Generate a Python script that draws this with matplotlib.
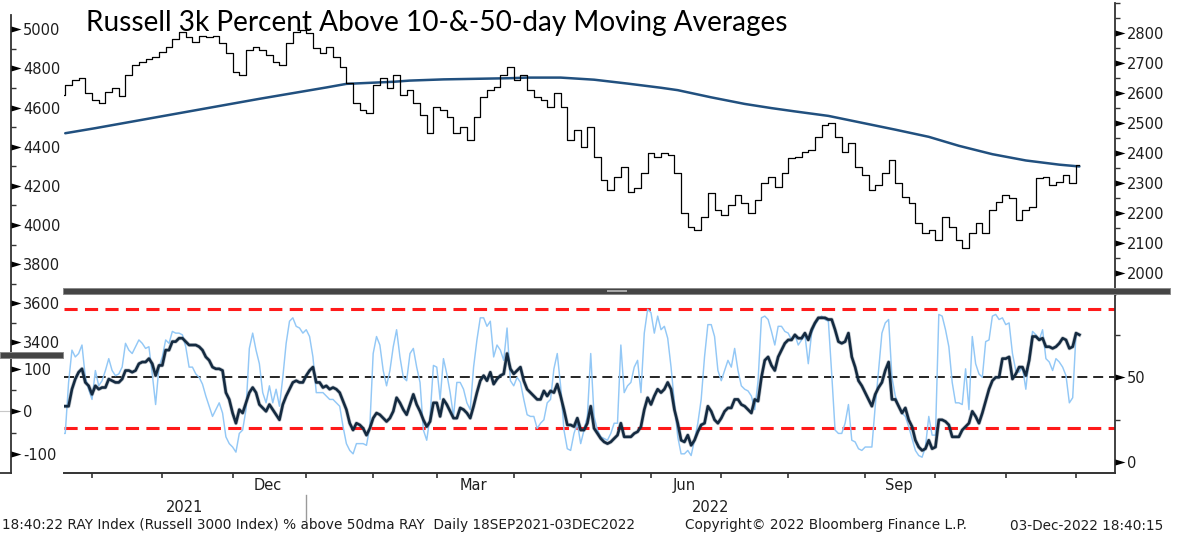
import numpy as np
import pandas as pd
import matplotlib
matplotlib.use("Agg")
import matplotlib.pyplot as plt
from matplotlib.patches import Rectangle
from matplotlib.ticker import FixedLocator, FixedFormatter
import matplotlib.patheffects as pe

# ---------------- data ----------------
TITLE = "Russell 3k Percent Above 10-&-50-day Moving Averages"
FOOT_LEFT = "18:40:22 RAY Index (Russell 3000 Index) % above 50dma RAY  Daily 18SEP2021-03DEC2022"
FOOT_MID = "Copyright\u00a9 2022 Bloomberg Finance L.P."
FOOT_RIGHT = "03-Dec-2022 18:40:15"

start_date, end_date = "2021-09-20", "2022-12-02"
market_holidays = ["2021-11-25", "2021-12-24", "2022-01-17", "2022-02-21", "2022-04-15",
                   "2022-05-30", "2022-06-20", "2022-07-04", "2022-09-05", "2022-11-24"]

# RAY close, every 2nd trading day
ray_close = [
    2594, 2627, 2644, 2650, 2599, 2577, 2566, 2605, 2616, 2590,
    2661, 2694, 2705, 2713, 2722, 2739, 2755, 2780, 2805, 2789,
    2772, 2791, 2789, 2791, 2769, 2733, 2672, 2661, 2744, 2755,
    2744, 2727, 2705, 2694, 2766, 2805, 2811, 2800, 2750, 2733,
    2755, 2722, 2688, 2633, 2566, 2544, 2532, 2627, 2650, 2616,
    2661, 2594, 2611,
    2566, 2527, 2466, 2555, 2544, 2521, 2466, 2488, 2443, 2521,
    2588, 2611, 2622, 2661, 2688, 2644, 2661, 2611, 2588, 2577,
    2555, 2599, 2555, 2443, 2477, 2421, 2488, 2388, 2310, 2276,
    2321, 2354, 2271, 2282, 2332, 2399, 2388, 2399, 2393, 2332,
    2198, 2154, 2143, 2187, 2265, 2209, 2193, 2226, 2260, 2232,
    2198, 2243, 2299,
    2321, 2288, 2332, 2382, 2388, 2404, 2410, 2454, 2493, 2499,
    2454, 2404, 2432, 2354, 2326, 2276, 2293, 2332, 2377, 2299,
    2254, 2232, 2165, 2132, 2143, 2109, 2187, 2154, 2109, 2081,
    2132, 2165, 2132, 2209, 2237, 2260, 2249, 2176, 2209, 2221,
    2315, 2321, 2293, 2304, 2326, 2299, 2360,
]

# 200-day moving average (trading-day index, value)
dma200_day = [1, 10, 19, 29, 39, 49, 59, 69, 79, 85, 99, 104, 114, 124, 134, 139, 149,
              159, 169, 179, 184, 194, 204, 212, 219, 229, 239, 249, 259, 268, 278, 288, 298, 304]
dma200_val = [2466, 2483, 2501, 2521, 2541, 2561, 2581, 2600, 2619, 2631, 2638, 2642, 2646, 2648,
              2650, 2652, 2652, 2645, 2632, 2618, 2610, 2586, 2564, 2550, 2539, 2524, 2501, 2478,
              2454, 2424, 2396, 2375, 2361, 2355]

# % of members above 50-day MA (daily)
pct_above_50dma = [
    33,
    33, 33, 43, 49, 53, 55, 47, 45, 40, 45,
    43, 44, 44, 49, 48, 47, 47, 49, 54, 54,
    53, 54, 58, 59, 59, 61, 58, 51, 57, 57,
    66, 66, 71, 71, 73, 73, 71, 69, 69, 69,
    68, 66, 62, 60, 56, 55, 55, 54, 41, 37,
    29, 23, 31, 29, 35, 41, 44, 41, 34, 32,
    30, 34, 31, 28, 25, 34, 39, 43, 47, 48,
    47, 47, 51, 54, 56, 47, 47, 44, 45, 43,
    44, 43, 41, 36, 31, 23, 19, 23, 22, 20,
    16, 20, 26, 29, 28, 26, 24, 26, 30, 38,
    35, 31, 28, 34, 40, 34, 30,
    25, 21, 24, 35, 35, 27, 37, 34, 30, 26,
    26, 32, 31, 29, 26, 33, 41, 48, 51, 48,
    53, 46, 49, 51, 52, 64, 55, 52, 54, 56,
    48, 43, 41, 39, 37, 37, 42, 39, 42, 41,
    46, 39, 31, 22, 22, 21, 26, 19, 19, 23,
    33, 20, 17, 14, 12, 11, 12, 14, 16, 23,
    15, 15, 15, 17, 18, 21, 31, 38, 34, 39,
    43, 41, 43, 47, 43, 31, 23, 13, 12, 16,
    10, 13, 18, 22, 23, 33, 30, 25, 23, 26,
    30, 32, 32, 37, 37, 34, 33, 31, 29, 37,
    36, 50, 60, 62,
    57, 54, 62, 66, 70, 72, 72, 75, 73, 73,
    76, 72, 78, 82, 85, 85, 85, 84, 84, 78,
    71, 70, 71, 76, 62, 56, 48, 45, 41, 37,
    33, 40, 44, 47, 54, 59, 37, 37, 33, 29,
    32, 25, 21, 13, 9, 7, 8, 13, 8, 9,
    25, 25, 24, 22, 15, 15, 15, 19, 21, 23,
    30, 27, 23, 29, 36, 43, 48, 50, 50, 61,
    61, 62, 49, 52, 56, 56, 51, 60, 74, 74,
    72, 73, 68, 68, 67, 68, 70, 73, 72, 67,
    68, 76, 75,
]

# % of members above 10-day MA (daily)
pct_above_10dma = [
    17,
    17, 47, 66, 62, 64, 69, 50, 43, 37, 54,
    45, 48, 54, 61, 54, 51, 52, 56, 70, 66,
    64, 68, 72, 70, 67, 68, 52, 34, 56, 62,
    72, 70, 77, 76, 76, 75, 68, 56, 56, 52,
    50, 46, 39, 33, 27, 31, 35, 29, 15, 11,
    9, 6, 17, 19, 31, 67, 76, 66, 58, 41,
    35, 45, 35, 43, 33, 50, 70, 83, 85, 80,
    79, 76, 78, 74, 62, 41, 41, 41, 39, 37,
    37, 35, 33, 21, 11, 7, 5, 11, 11, 11,
    10, 21, 64, 74, 69, 54, 45, 54, 68, 78,
    62, 50, 48, 64, 67, 56, 47,
    19, 13, 27, 57, 56, 37, 61, 52, 41, 27,
    47, 47, 43, 35, 31, 56, 72, 85, 85, 80,
    83, 62, 69, 66, 60, 79, 48, 45, 50, 47,
    37, 28, 27, 27, 20, 23, 25, 35, 37, 55,
    64, 45, 19, 8, 7, 17, 23, 11, 19, 27,
    64, 27, 19, 15, 14, 13, 17, 23, 23, 69,
    41, 45, 47, 56, 60, 41, 76, 90, 88, 76,
    86, 78, 80, 73, 56, 35, 15, 5, 5, 7,
    4, 13, 23, 37, 62, 81, 81, 74, 54, 48,
    54, 60, 56, 67, 54, 45, 43, 42, 39, 31,
    48, 85, 86, 84,
    77, 69, 80, 80, 77, 76, 72, 75, 69, 72,
    75, 58, 76, 81, 84, 86, 84, 83, 52, 19,
    17, 17, 23, 34, 13, 12, 8, 7, 9, 9,
    9, 33, 54, 76, 82, 84, 50, 39, 33, 29,
    27, 21, 14, 7, 4, 3, 9, 27, 16, 16,
    87, 86, 78, 68, 47, 35, 35, 34, 55, 31,
    74, 58, 52, 50, 71, 72, 86, 87, 84, 85,
    81, 82, 64, 54, 53, 56, 43, 62, 77, 75,
    72, 78, 61, 59, 54, 61, 59, 56, 51, 35,
    38, 76, 75,
]

band_upper, band_mid, band_lower = 90, 50, 20

right_top_major = [2000, 2100, 2200, 2300, 2400, 2500, 2600, 2700, 2800]
right_top_minor = [2050, 2150, 2250, 2350, 2450, 2550, 2650, 2750, 2850, 2900]
right_bot_major = [0, 50, 100]
right_bot_labels = ["0", "50", ""]
right_bot_minor = [25, 75]
left_top_major = [3400, 3600, 3800, 4000, 4200, 4400, 4600, 4800, 5000]
left_top_minor = [3500, 3700, 3900, 4100, 4300, 4500, 4700, 4900]
left_bot_major = [-100, 0, 100]
left_bot_minor = [-50, 50]
month_label_months = {"2021-12": "Dec", "2022-03": "Mar", "2022-06": "Jun", "2022-09": "Sep"}

# ---------------- calendar ----------------
dates = pd.bdate_range(start_date, end_date)
dates = dates[~dates.isin(pd.to_datetime(market_holidays))]
periods = dates.to_period("M")
month_start_idx = [i for i in range(1, len(dates)) if periods[i] != periods[i - 1]]
year_start_idx = [i for i in range(1, len(dates)) if dates[i].year != dates[i - 1].year][0]
label_pos, label_txt = [], []
for m, lab in month_label_months.items():
    idx = np.where(periods.astype(str) == m)[0]
    label_pos.append((idx[0] + idx[-1]) / 2.0)
    label_txt.append(lab)

# ---------------- figure ----------------
W, H, DPI = 1184, 537, 100
fig = plt.figure(figsize=(W / DPI, H / DPI), dpi=DPI)
fig.patch.set_facecolor("white")


def px_axes(x0, y0, x1, y1):
    return fig.add_axes([x0 / W, 1 - y1 / H, (x1 - x0) / W, (y1 - y0) / H])


DAY0_PX, PX_PER_DAY = 61.9, 3.347
PLOT_L, PLOT_R = 63.5, 1115
XLIM = ((PLOT_L - DAY0_PX) / PX_PER_DAY, (PLOT_R - DAY0_PX) / PX_PER_DAY)
TXT = "#1e1e1e"
SPINE = "#333333"
FS = 10.5
ARROW = [(0, -3), (0, 3), (10, 0), (0, -3)]


def value_axis(ax, major, labels, minor, ylim):
    ax.yaxis.tick_right()
    ax.yaxis.set_major_locator(FixedLocator(major))
    ax.yaxis.set_major_formatter(FixedFormatter(labels))
    ax.yaxis.set_minor_locator(FixedLocator(minor))
    ax.tick_params(axis="y", which="major", length=0, pad=8.6, labelsize=FS, labelcolor=TXT)
    ax.tick_params(axis="y", which="minor", length=3.6, width=1.0, color=SPINE, direction="out")
    ax.plot([1] * len(major), major, transform=ax.get_yaxis_transform(), ls="none",
            marker=ARROW, ms=14.4, mfc="black", mec="black", mew=0, clip_on=False, zorder=6)
    ax.set_ylim(*ylim)
    ax.spines["right"].set_color(SPINE)
    ax.spines["right"].set_linewidth(1.3)


# top panel: RAY price + 200dma
ax1 = px_axes(PLOT_L, 3, PLOT_R, 290)
price_x = np.arange(0, 2 * len(ray_close), 2)
ax1.plot(dma200_day, dma200_val, color="#21507f", lw=1.8, zorder=2, solid_capstyle="round",
         solid_joinstyle="round")
ax1.plot(price_x, ray_close, drawstyle="steps-mid", color="black", lw=0.9, zorder=3)
for s in ["top", "left", "bottom"]:
    ax1.spines[s].set_visible(False)
ax1.tick_params(axis="x", bottom=False, labelbottom=False)
value_axis(ax1, right_top_major, [str(v) for v in right_top_major], right_top_minor, (1942.1, 2901.3))
ax1.set_xlim(*XLIM)

# bottom panel: breadth
ax2 = px_axes(PLOT_L, 293, PLOT_R, 472.7)
days = np.arange(len(pct_above_50dma))
ax2.axhline(band_upper, color="#ff1a1a", lw=2.2, ls=(0, (4.3, 2.4)), zorder=1)
ax2.axhline(band_lower, color="#ff1a1a", lw=2.2, ls=(0, (4.3, 2.4)), zorder=1)
ax2.axhline(band_mid, color="black", lw=1.2, ls=(0, (6, 3.5)), zorder=1)
ax2.plot(np.arange(len(pct_above_10dma)), pct_above_10dma, color="#93c8f6", lw=1.05, zorder=2)
ax2.plot(days, pct_above_50dma, color="#142a40", lw=1.9, zorder=3, solid_joinstyle="round",
         path_effects=[pe.Stroke(linewidth=2.9, foreground="#142a40", alpha=0.25), pe.Normal()])
ax2.spines["top"].set_visible(False)
ax2.spines["left"].set_visible(False)
ax2.spines["bottom"].set_color(SPINE)
ax2.spines["bottom"].set_linewidth(1.4)
value_axis(ax2, right_bot_major, right_bot_labels, right_bot_minor, (-6.1, 99.6))
ax2.xaxis.set_major_locator(FixedLocator(month_start_idx))
ax2.xaxis.set_major_formatter(FixedFormatter([""] * len(month_start_idx)))
ax2.xaxis.set_minor_locator(FixedLocator(label_pos))
ax2.xaxis.set_minor_formatter(FixedFormatter(label_txt))
ax2.tick_params(axis="x", which="major", length=3.6, width=1.2, color=SPINE, direction="out")
ax2.tick_params(axis="x", which="minor", length=0, pad=4.0, labelsize=FS, labelcolor=TXT)
ax2.set_xlim(*XLIM)
ax_h = 472.7 - 293
ax2.plot([year_start_idx, year_start_idx], [(472.7 - 495) / ax_h, (472.7 - 520) / ax_h],
         transform=ax2.get_xaxis_transform(), clip_on=False, color="#9a9a9a", lw=1.0)
for xc, yr in [((XLIM[0] + year_start_idx) / 2, str(dates[0].year)),
               ((year_start_idx + XLIM[1]) / 2, str(dates[-1].year))]:
    ax2.text(xc, (472.7 - 507.5) / ax_h, yr, transform=ax2.get_xaxis_transform(),
             ha="center", va="center", fontsize=FS, color=TXT)

# left-hand (overlapping) value axes
axL1 = px_axes(0, 15, 11, 352)
axL2 = px_axes(0, 357, 11, 473)
for ax in (axL1, axL2):
    for s in ["top", "left", "bottom"]:
        ax.spines[s].set_visible(False)
    ax.tick_params(axis="x", bottom=False, labelbottom=False)
    ax.set_facecolor("none")
value_axis(axL1, left_top_major, [str(v) for v in left_top_major], left_top_minor, (3351.4, 5073))
value_axis(axL2, left_bot_major, [str(v) for v in left_bot_major], left_bot_minor, (-144.7, 128.2))
axL2.spines["bottom"].set_visible(True)
axL2.spines["bottom"].set_color(SPINE)
axL2.spines["bottom"].set_linewidth(1.3)
axL2.axhline(0, color="#c8c8c8", lw=0.8)
for ax in (axL1, axL2):
    ax.set_xlim(0, 1)

# separator bars
fig.add_artist(Rectangle((63 / W, 1 - 294 / H), (1170 - 63) / W, 6.5 / H, transform=fig.transFigure,
                         facecolor="#454545", edgecolor="#8a8a8a", lw=0.7, zorder=10))
fig.add_artist(Rectangle((607 / W, 1 - 292 / H), 20 / W, 2.2 / H, transform=fig.transFigure,
                         facecolor="#a8a8a8", edgecolor="none", zorder=11))
fig.add_artist(Rectangle((0, 1 - 358 / H), 63 / W, 6.5 / H, transform=fig.transFigure,
                         facecolor="#454545", edgecolor="#8a8a8a", lw=0.7, zorder=10))

# title and footer (sizes fitted to measured widths)
renderer = fig.canvas.get_renderer()


def fitted_text(x, y, s, width_px, family, size0, **kw):
    t = fig.text(x / W, 1 - y / H, s, fontsize=size0, family=family, va="baseline", ha="left", **kw)
    bb = t.get_window_extent(renderer)
    t.set_fontsize(size0 * width_px / bb.width)
    return t


fitted_text(86, 30.5, TITLE, 699, "Lato", 22, color="black", zorder=20)
ft = fitted_text(2, 529.5, FOOT_LEFT, 634, "DejaVu Sans", 9.5, color=TXT)
fsz = ft.get_fontsize()
fig.text(685 / W, 1 - 529.5 / H, FOOT_MID, fontsize=fsz, va="baseline", ha="left", color=TXT)
fig.text(1010 / W, 1 - 529.5 / H, FOOT_RIGHT, fontsize=fsz, va="baseline", ha="left", color=TXT)

fig.savefig("out.png", dpi=DPI, facecolor="white")
